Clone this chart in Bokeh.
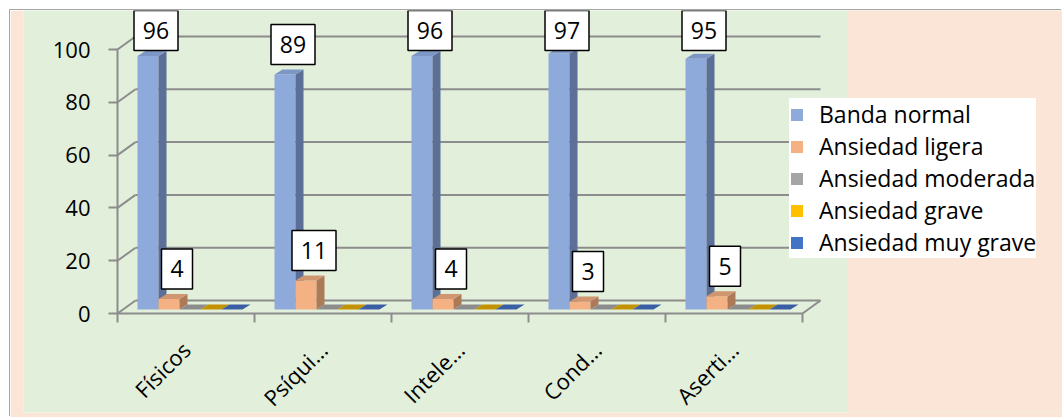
import math
from bokeh.plotting import figure
from bokeh.models import FixedTicker, Legend, LegendItem, ColumnDataSource, BoxAnnotation
from bokeh.core.properties import value
from bokeh.embed import file_html
from bokeh.resources import INLINE

# ---------------- data ----------------
categories = ["Físicos", "Psíqui…", "Intele…", "Cond…", "Aserti…"]
series_names = ["Banda normal", "Ansiedad ligera", "Ansiedad moderada",
                "Ansiedad grave", "Ansiedad muy grave"]
banda_normal = [96, 89, 96, 97, 95]
ansiedad_ligera = [4, 11, 4, 3, 5]
ansiedad_moderada = [0, 0, 0, 0, 0]
ansiedad_grave = [0, 0, 0, 0, 0]
ansiedad_muy_grave = [0, 0, 0, 0, 0]
y_ticks = [0, 20, 40, 60, 80, 100]
labelled_series = [0, 1]

series_values = [banda_normal, ansiedad_ligera, ansiedad_moderada,
                 ansiedad_grave, ansiedad_muy_grave]

# ---------------- styles ----------------
front_colors = ["#8EAADB", "#F4B183", "#A5A5A5", "#FFC000", "#4472C4"]
side_colors = ["#5B6F97", "#AD7A58", "#737373", "#B38600", "#2F5089"]
top_colors = ["#7C96C6", "#CF9670", "#8C8C8C", "#C29200", "#3A5EA3"]
GREEN = "#E2EFDA"
PEACH = "#FBE5D6"
GRID = "#8C8C8C"
FONT = "Open Sans"

W, H = 1052, 407                      # figure sits 10px in from the top-left
FL, FR, FT, FB = 13, 1052, 0, 402     # frame edges on canvas
PXX = 137.0                           # px per category
PXY = 2.64                            # px per value unit
X0 = 94.0                             # px from frame left to x=0
Y0 = 303.0                            # px from frame top to y=0
GREEN_RIGHT_PX = 824.0                # px from frame left where peach begins

x_start = -X0 / PXX
x_end = x_start + (FR - FL) / PXX
y_end = Y0 / PXY
y_start = y_end - (FB - FT) / PXY

BX, BY = 18 / PXX, 13 / PXY           # back wall offset
MX, MY = 4 / PXX, 4 / PXY             # bar depth offset
SX, SY = 8 / PXX, 5 / PXY             # bar side depth
BW = 21 / PXX                         # bar width

p = figure(width=W, height=H, output_backend="svg", toolbar_location=None,
           x_range=(x_start, x_end), y_range=(y_start, y_end),
           min_border_left=FL, min_border_right=W - FR,
           min_border_top=FT, min_border_bottom=H - FB,
           margin=(10, 0, 0, 10))
p.styles = {"box-shadow": "-1px -1px 0px 0px #A6A6A6"}
p.background_fill_color = GREEN
p.border_fill_color = PEACH
p.outline_line_color = None
p.xgrid.visible = False
p.ygrid.visible = False

p.add_layout(BoxAnnotation(left=x_start + GREEN_RIGHT_PX / PXX, fill_color=PEACH,
                           fill_alpha=1, line_color=None, level="underlay"))

n = len(categories)

# back wall gridlines + side diagonals
p.segment(x0=[BX] * len(y_ticks), x1=[n + BX] * len(y_ticks),
          y0=[t + BY for t in y_ticks], y1=[t + BY for t in y_ticks],
          line_color=GRID, line_width=2)
p.segment(x0=[0] * len(y_ticks), x1=[BX] * len(y_ticks),
          y0=y_ticks, y1=[t + BY for t in y_ticks],
          line_color=GRID, line_width=2)
p.segment(x0=[n], x1=[n + BX], y0=[0], y1=[BY], line_color=GRID, line_width=2)

# bars
ns = len(series_values)
renderers = []
label_x, label_y, label_t, label_w = [], [], [], []
for j, vals in enumerate(series_values):
    lefts = [i + 0.5 - ns / 2 * BW + j * BW + MX for i in range(n)]
    rights = [l + BW for l in lefts]
    centers = [l + BW / 2 for l in lefts]
    tops = [MY + v for v in vals]
    r = p.vbar(x=centers, width=BW, bottom=MY, top=tops,
               fill_color=front_colors[j], line_color=None)
    renderers.append(r)
    xs, ys, cs = [], [], []
    for l, rr, t in zip(lefts, rights, tops):
        xs.append([rr, rr, rr + SX, rr + SX])
        ys.append([MY, t, t + SY, MY + SY])
        cs.append(side_colors[j])
        xs.append([l, rr, rr + SX, l + SX])
        ys.append([t, t, t + SY, t + SY])
        cs.append(top_colors[j])
    p.patches(xs="xs", ys="ys", fill_color="c", line_color=None,
              source=ColumnDataSource(dict(xs=xs, ys=ys, c=cs)))
    if j in labelled_series:
        for c, t, v in zip(centers, tops, vals):
            box_h = 40 / PXY
            cy = t + SY + 5 / PXY + box_h / 2
            cy = min(cy, y_end - box_h / 2)
            label_x.append(c + SX)
            label_y.append(cy)
            label_t.append(str(v))
            label_w.append(13 * len(str(v)) + 18)

p.rect(x=label_x, y=label_y, width=label_w, height=40,
       width_units="screen", height_units="screen",
       fill_color="white", line_color="black", line_width=1.5)
p.text(x=label_x, y=label_y, text=label_t, text_align="center",
       text_baseline="middle", text_font=value(FONT),
       text_font_size="23px", text_color="black")

# axes
ya = p.yaxis[0]
ya.fixed_location = 0
ya.bounds = (0, 100)
ya.ticker = FixedTicker(ticks=y_ticks)
ya.major_tick_out = 9
ya.major_tick_in = 0
ya.minor_tick_line_color = None
ya.axis_line_color = GRID
ya.axis_line_width = 2
ya.major_tick_line_color = GRID
ya.major_tick_line_width = 2
ya.major_label_standoff = 18
ya.major_label_text_font = FONT
ya.major_label_text_font_size = "22px"
ya.major_label_text_color = "black"

xa = p.xaxis[0]
xa.fixed_location = 0
xa.bounds = (0, n)
xa.ticker = FixedTicker(ticks=[i + 0.5 for i in range(n)],
                        minor_ticks=list(range(n + 1)))
xa.major_label_overrides = {i + 0.5: c for i, c in enumerate(categories)}
xa.major_label_orientation = math.pi / 4
xa.major_tick_line_color = None
xa.major_tick_out = 0
xa.major_tick_in = 0
xa.minor_tick_out = 9
xa.minor_tick_in = 0
xa.minor_tick_line_color = GRID
xa.minor_tick_line_width = 2
xa.axis_line_color = GRID
xa.axis_line_width = 2
xa.major_label_standoff = 23
xa.major_label_text_font = FONT
xa.major_label_text_font_size = "22px"
xa.major_label_text_color = "black"

legend = Legend(items=[LegendItem(label=nm, renderers=[r])
                       for nm, r in zip(series_names, renderers)],
                location=(766, 154))
legend.background_fill_color = "white"
legend.background_fill_alpha = 1
legend.border_line_color = None
legend.label_text_font = FONT
legend.label_text_font_size = "23px"
legend.label_text_color = "black"
legend.glyph_width = 15
legend.glyph_height = 15
legend.label_standoff = 15
legend.padding = 5
legend.spacing = -2
legend.margin = 0
p.add_layout(legend)

open("out.html", "w").write(file_html(p, INLINE))
